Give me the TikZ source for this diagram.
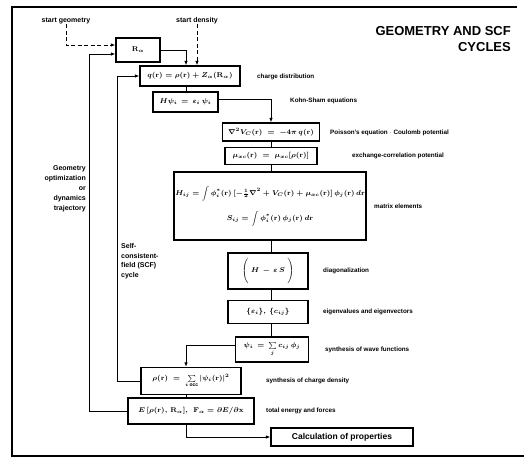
\documentclass[tikz,border=0pt]{standalone}
\usepackage{amsmath}
\usepackage{fontspec}
\setmainfont{Liberation Sans}
\usetikzlibrary{arrows.meta}
\tikzset{
  box/.style={draw, line width=1.2pt, inner sep=0pt, font=\fontsize{7}{8.5}\selectfont\boldmath},
  lab/.style={anchor=west, inner sep=0pt, font=\fontsize{6.3}{7.5}\selectfont\bfseries},
  biglab/.style={inner sep=0pt, font=\fontsize{7}{10}\selectfont\bfseries},
  conn/.style={line width=0.9pt},
  arr/.style={conn, -{Latex[length=4.5pt,width=3.5pt]}},
  darr/.style={arr, dash pattern=on 4pt off 2.5pt},
}
\begin{document}
\begin{tikzpicture}[x=1pt,y=-1pt]
\useasboundingbox (0,0) rectangle (524,460);
% frame
\draw[line width=1.3pt] (517,7) -- (12,7) -- (12,456) -- (524,456);
% title
\node[anchor=east, inner sep=0pt, font=\fontsize{13}{15}\selectfont\bfseries] (t1) at (511,31) {GEOMETRY AND SCF};
\node[anchor=east, inner sep=0pt, font=\fontsize{13}{15}\selectfont\bfseries] (t2) at (511,47) {CYCLES};
% boxes
\node[box, minimum width=44pt, minimum height=24pt] (R) at (138,50) {$\mathbf{R}_\alpha$};
\node[box, minimum width=100pt, minimum height=20pt] (q) at (190,76) {$q(\mathbf{r}) = \rho(\mathbf{r}) + Z_\alpha(\mathbf{R}_\alpha)$};
\node[box, minimum width=65pt, minimum height=20pt] (H) at (185.5,102) {$H\psi_i \,=\, \varepsilon_i\,\psi_i$};
\node[box, minimum width=97pt, minimum height=18pt] (P) at (271,132) {$\nabla^2 V_C(\mathbf{r}) \;=\; -4\pi\, q(\mathbf{r})$};
\node[box, minimum width=92pt, minimum height=17pt] (mu) at (271,156) {$\mu_{xc}(\mathbf{r}) \;=\; \mu_{xc}[\rho(\mathbf{r})]$};
\node[box, minimum width=192pt, minimum height=68pt, align=center, font=\fontsize{6.6}{8}\selectfont\boldmath] (HS) at (270,206)
  {$H_{ij} = \displaystyle\int \phi_i^*(\mathbf{r})\,[-\tfrac{1}{2}\nabla^2 + V_C(\mathbf{r}) + \mu_{xc}(\mathbf{r})]\,\phi_j(\mathbf{r})\,d\mathbf{r}$\\[9pt]
   $S_{ij} = \displaystyle\int \phi_i^*(\mathbf{r})\,\phi_j(\mathbf{r})\,d\mathbf{r}$};
\node[box, minimum width=80pt, minimum height=36pt] (HeS) at (268,271) {$\left(\rule[-8pt]{0pt}{22pt}\;H \,-\, \varepsilon\, S\;\right)$};
\node[box, minimum width=80pt, minimum height=23pt] (eig) at (268,312) {$\{\varepsilon_i\},\ \{c_{ij}\}$};
\node[box, minimum width=73pt, minimum height=25pt] (psi) at (272,349.5) {$\psi_i \,=\, \sum\limits_j c_{ij}\,\phi_j$};
\node[box, minimum width=100pt, minimum height=27pt] (rho) at (191,381) {$\rho(\mathbf{r}) \;=\; \sum\limits_{i\,\mathrm{occ}} |\psi_i(\mathbf{r})|^2$};
\node[box, minimum width=126pt, minimum height=26pt] (E) at (191,411) {$E\,[\rho(\mathbf{r}),\,\mathbf{R}_\alpha],\ \ \mathbf{F}_\alpha = \partial E/\partial \mathbf{x}$};
\node[draw, line width=1.2pt, minimum width=142pt, minimum height=18pt, inner sep=0pt, font=\fontsize{8.5}{10}\selectfont\bfseries] (calc) at (342,437) {Calculation of properties};
% start labels
\node[biglab] (sg) at (66,21) {start geometry};
\node[biglab] (sd) at (197,21) {start density};
% side labels
\node[biglab, anchor=east, align=right] (geo) at (86,189) {Geometry\\optimization\\or\\dynamics\\trajectory};
\node[biglab, anchor=west, align=left, font=\fontsize{7}{9.5}\selectfont\bfseries] (scf) at (121,261) {Self-\\consistent-\\field (SCF)\\cycle};
% right labels
\node[lab] (l1) at (257,77) {charge distribution};
\node[lab] (l2) at (290,101) {Kohn-Sham equations};
\node[lab] (l3) at (330,133) {Poisson's equation $\cdot$ Coulomb potential};
\node[lab] (l4) at (352,156) {exchange-correlation potential};
\node[lab] (l5) at (374,206) {matrix elements};
\node[lab] (l6) at (323,271) {diagonalization};
\node[lab] (l7) at (323,312) {eigenvalues and eigenvectors};
\node[lab] (l8) at (325,350) {synthesis of wave functions};
\node[lab] (l9) at (266,381) {synthesis of charge density};
\node[lab] (l10) at (266,411) {total energy and forces};
% helper coordinates
\coordinate (sg1) at (66,45);
\coordinate (gTop) at (89,54);
\coordinate (sTop) at (117,76);
\coordinate (qx) at (186,0);
\coordinate (cx) at (271,0);
% connectors
\draw[darr] (sg.south) -- (sg1) -- (R.west |- sg1);
\draw[arr] (E.west) -| (gTop) -- (R.west |- gTop);
\draw[darr] (sd.south) -- (sd.south |- q.north);
\draw[arr] (R.east) -| (qx |- q.north);
\draw[arr] (rho.west) -| (sTop) -- (q.west |- sTop);
\draw[conn] (qx |- q.south) -- (qx |- H.north);
\draw[arr] ([yshift=3pt]H.east) -| (P.north);
\draw[conn] (P.south) -- (mu.north);
\draw[conn] (cx |- mu.south) -- (cx |- HS.north);
\draw[conn] (cx |- HS.south) -- (cx |- HeS.north);
\draw[conn] (cx |- HeS.south) -- (cx |- eig.north);
\draw[conn] (cx |- eig.south) -- (cx |- psi.north);
\draw[arr] ([yshift=4pt]psi.west) -| (qx |- rho.north);
\draw[conn] (qx |- rho.south) -- (qx |- E.north);
\draw[arr] (qx |- E.south) |- (calc.west);
\end{tikzpicture}
\end{document}
